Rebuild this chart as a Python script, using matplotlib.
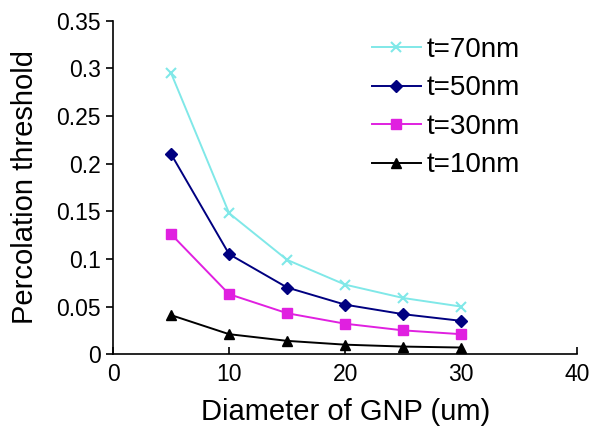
import matplotlib

matplotlib.use("Agg")
import matplotlib.pyplot as plt
from matplotlib.ticker import FuncFormatter

plt.rcParams["font.family"] = ["Liberation Sans", "DejaVu Sans"]

diameter = [5, 10, 15, 20, 25, 30]
t70 = [0.295, 0.148, 0.099, 0.073, 0.059, 0.050]
t50 = [0.210, 0.105, 0.070, 0.052, 0.042, 0.035]
t30 = [0.126, 0.063, 0.043, 0.032, 0.025, 0.021]
t10 = [0.041, 0.021, 0.014, 0.010, 0.008, 0.007]

fig = plt.figure(figsize=(5.89, 4.33), dpi=100)
ax = fig.add_axes([0.192, 0.182, 0.788, 0.770])

ax.plot(diameter, t70, color="#80e8e8", marker="x", ms=7, mew=1.5, lw=1.4, label="t=70nm")
ax.plot(diameter, t50, color="#000080", marker="D", ms=6, lw=1.4, label="t=50nm")
ax.plot(diameter, t30, color="#e020e0", marker="s", ms=7, lw=1.4, label="t=30nm")
ax.plot(diameter, t10, color="black", marker="^", ms=7, lw=1.4, label="t=10nm")

ax.set_xlim(0, 40)
ax.set_ylim(0, 0.35)
ax.set_xticks([0, 10, 20, 30, 40])
ax.set_yticks([0, 0.05, 0.1, 0.15, 0.2, 0.25, 0.3, 0.35])
ax.yaxis.set_major_formatter(FuncFormatter(lambda v, p: "0" if v == 0 else f"{v:g}"))
ax.spines["top"].set_visible(False)
ax.spines["right"].set_visible(False)
ax.spines["left"].set_linewidth(1.2)
ax.spines["bottom"].set_linewidth(1.2)
ax.tick_params(axis="y", direction="out", length=5, width=1.2, labelsize=16.5, pad=4)
ax.tick_params(axis="x", direction="in", length=5, width=1.2, labelsize=16.5, pad=6)
ax.set_xlabel("Diameter of GNP (um)", fontsize=21)
ax.set_ylabel("Percolation threshold", fontsize=21)
ax.xaxis.set_label_coords(0.5, -0.13)
ax.yaxis.set_label_coords(-0.16, 0.5)

ax.legend(loc="upper left", bbox_to_anchor=(0.534, 0.985), borderaxespad=0,
          frameon=False, fontsize=20, labelspacing=0.45, handlelength=1.75,
          handletextpad=0.2)

fig.savefig("out.png", dpi=100)
